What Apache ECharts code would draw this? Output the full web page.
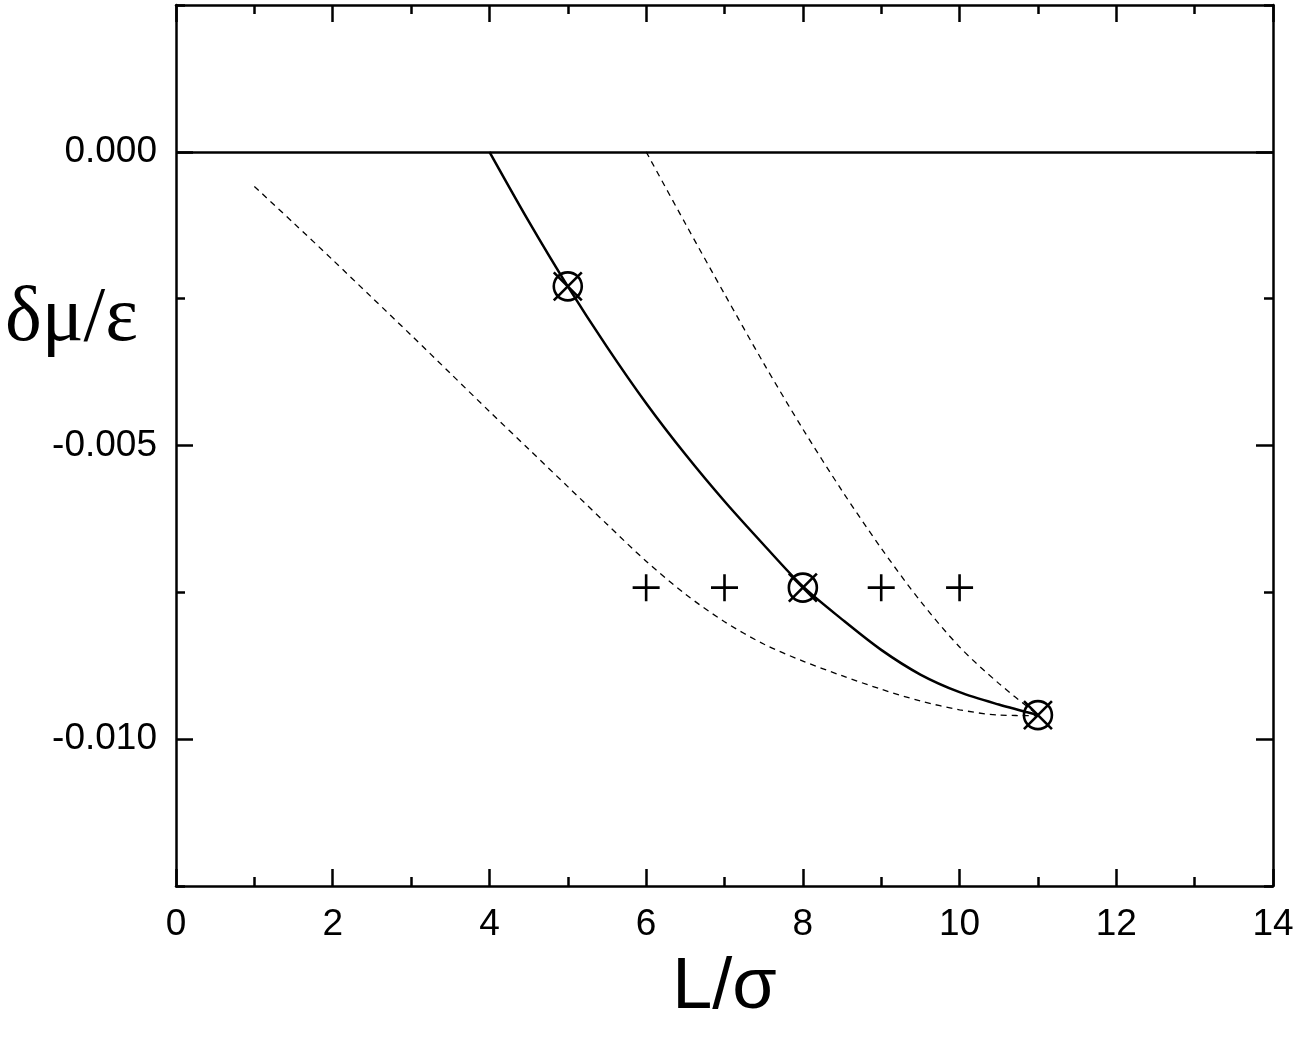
<!DOCTYPE html>
<html>
<head>
<meta charset="utf-8">
<script src="https://cdn.jsdelivr.net/npm/echarts@6/dist/echarts.min.js"></script>
<style>
  html, body { margin: 0; padding: 0; background: #fff; }
  #chart { width: 1300px; height: 1038px; }
</style>
</head>
<body>
<div id="chart"></div>
<script>
// datos

var xTicks = [0, 2, 4, 6, 8, 10, 12, 14];
var yMajor = [-0.010, -0.005, 0.000];
var yMinor = [-0.0125, -0.0075, -0.0025, 0.0025];

// curva solida
var solidX = [4, 4.5, 5, 5.5, 6, 6.5, 7, 7.5, 8, 8.5, 9, 9.5, 10, 10.5, 11];
var solidY = [0, -0.00118, -0.00229, -0.00332, -0.00428, -0.00515, -0.00595, -0.00669,
              -0.00740, -0.00796, -0.00848, -0.00890, -0.00920, -0.00941, -0.00959];

// curva discontinua izquierda
var leftX = [1, 1.5, 2, 2.5, 3, 3.5, 4, 4.5, 5, 5.5, 6, 6.5, 7, 7.5, 8, 8.5, 9, 9.5, 10, 10.5, 11];
var leftY = [-0.00059, -0.00121, -0.00184, -0.00248, -0.00312, -0.00377, -0.00442, -0.00506,
             -0.00570, -0.00634, -0.00697, -0.00753, -0.00800, -0.00838, -0.00867, -0.00892,
             -0.00915, -0.00935, -0.00950, -0.00959, -0.00960];

// curva discontinua derecha
var rightX = [6, 6.5, 7, 7.5, 8, 8.5, 9, 9.5, 10, 10.5, 11];
var rightY = [0, -0.00122, -0.00242, -0.00360, -0.00472, -0.00577, -0.00675, -0.00765,
              -0.00843, -0.00905, -0.00959];

// puntos
var circX = [5, 8, 11];
var circY = [-0.00229, -0.00742, -0.00959];
var plusX = [6, 7, 9, 10];
var plusY = [-0.00742, -0.00742, -0.00742, -0.00742];

function pares(xs, ys) {
    return xs.map(function (x, i) { return [x, ys[i]]; });
}

var dom = document.getElementById('chart');
var myChart = echarts.init(dom, null, { renderer: 'canvas' });

var fuente = '"Liberation Sans", Arial, Helvetica, sans-serif';

function ejeX(pos, labels) {
    return {
        type: 'value', position: pos, min: 0, max: 14, interval: 2,
        axisLine: { show: true, onZero: false, lineStyle: { color: '#000', width: 2.5 } },
        axisTick: { show: true, inside: true, length: 17, lineStyle: { color: '#000', width: 2.5 } },
        minorTick: { show: true, splitNumber: 2, length: 9, lineStyle: { color: '#000', width: 2.5 } },
        axisLabel: { show: labels, color: '#000', fontFamily: fuente, fontSize: 37, margin: 20 },
        splitLine: { show: false }
    };
}

function ejeY(pos, ticks, len, line, labels) {
    return {
        type: 'value', position: pos, min: -0.0125, max: 0.0025,
        axisLine: { show: line, onZero: false, lineStyle: { color: '#000', width: 2.5 } },
        axisTick: { show: true, inside: true, length: len, customValues: ticks,
                    lineStyle: { color: '#000', width: 2.5 } },
        axisLabel: { show: labels, customValues: yMajor, color: '#000', fontFamily: fuente,
                     fontSize: 37, margin: 19,
                     formatter: function (v) { return v.toFixed(3); } },
        splitLine: { show: false }
    };
}

var xBottom = ejeX('bottom', true);
xBottom.name = 'L/\u03c3';
xBottom.nameLocation = 'middle';
xBottom.nameGap = 66;
xBottom.nameTextStyle = { color: '#000', fontFamily: fuente, fontSize: 72 };

var option = {
    animation: false,
    backgroundColor: '#fff',
    grid: { left: 176, right: 27, top: 5, bottom: 152, containLabel: false, outerBoundsMode: 'none' },
    xAxis: [xBottom, ejeX('top', false)],
    yAxis: [
        ejeY('left', yMajor, 17, true, true),
        ejeY('right', yMajor, 17, true, false),
        ejeY('left', yMinor, 9, false, false),
        ejeY('right', yMinor, 9, false, false)
    ],
    graphic: [{
        type: 'text', left: 5, top: 281,
        style: { text: '\u03b4\u03bc/\u03b5', fill: '#000',
                 font: '78px "Liberation Serif", "Times New Roman", serif' }
    }],
    series: [
        {
            type: 'line', data: pares(solidX, solidY), smooth: 0.3,
            showSymbol: false,
            lineStyle: { color: '#000', width: 2.5 },
            markLine: {
                silent: true, symbol: 'none', label: { show: false },
                lineStyle: { color: '#000', width: 2.5, type: 'solid' },
                data: [{ yAxis: 0 }]
            }
        },
        {
            type: 'line', data: pares(leftX, leftY), smooth: 0.3,
            showSymbol: false,
            lineStyle: { color: '#000', width: 1.3, type: [6, 5] }
        },
        {
            type: 'line', data: pares(rightX, rightY), smooth: 0.3,
            showSymbol: false,
            lineStyle: { color: '#000', width: 1.3, type: [6, 5] }
        },
        {
            type: 'scatter', data: pares(circX, circY), symbolSize: 28,
            symbol: 'path://M-14,-14L14,14M14,-14L-14,14M14,0A14,14,0,1,1,-14,0A14,14,0,1,1,14,0Z',
            itemStyle: { color: 'rgba(0,0,0,0)', borderColor: '#000', borderWidth: 2.6, opacity: 1 },
            z: 5
        },
        {
            type: 'scatter', data: pares(plusX, plusY), symbolSize: 27,
            symbol: 'path://M0,-10L0,10M-10,0L10,0',
            itemStyle: { color: 'rgba(0,0,0,0)', borderColor: '#000', borderWidth: 2.6, opacity: 1 },
            z: 5
        }
    ]
};

myChart.setOption(option);
window.addEventListener('resize', myChart.resize);
</script>
</body>
</html>
